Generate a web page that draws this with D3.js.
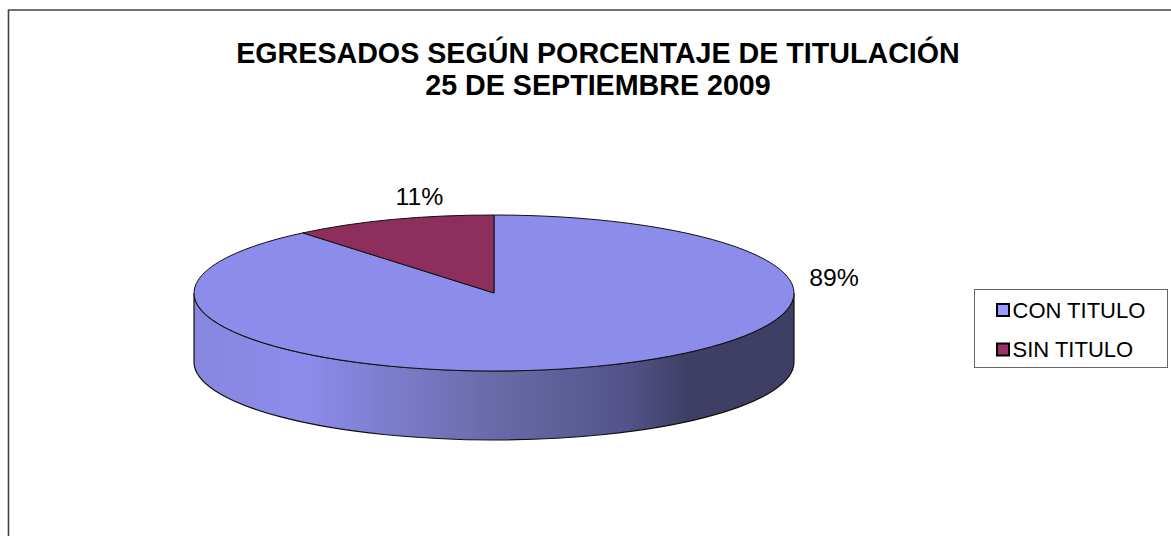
<!DOCTYPE html>
<html><head><meta charset="utf-8">
<script src="https://cdn.jsdelivr.net/npm/d3@7"></script>
<style>html,body{margin:0;padding:0;background:#fff}svg{display:block}text{font-family:"Liberation Sans",Arial,sans-serif;fill:#000}</style>
</head><body><svg id="c" width="1171" height="536"></svg>
<script>
const categories = ["CON TITULO", "SIN TITULO"];
const seriesValues = [89, 11];
const percentLabels = ["89%", "11%"];
const titleLines = ["EGRESADOS SEGÚN PORCENTAJE DE TITULACIÓN", "25 DE SEPTIEMBRE 2009"];
const sideStops = [[0, "#8787df"], [0.18, "#8c8cec"], [0.5, "#6a6aa8"], [0.72, "#53538a"], [0.82, "#3f3f66"], [1, "#3f3f66"]];
const sliceColors = ["#8c8ceb", "#8d2e5c"];
const legendColors = ["#9999ff", "#993366"];

const svg = d3.select("#c");
const cx = 494, cy = 293, rx = 300, ry = 78, depth = 69;

svg.append("path").attr("d", "M8.5 536V10H1171").attr("fill", "none").attr("stroke", "#444").attr("stroke-width", 1.6);

svg.append("text").attr("text-anchor", "middle").attr("font-size", 28.65).attr("font-weight", "bold")
  .selectAll("tspan").data(titleLines).join("tspan")
  .attr("x", 598).attr("y", (d, i) => 63 + i * 32).text(d => d);

const defs = svg.append("defs");
const grad = defs.append("linearGradient").attr("id", "side").attr("x1", 0).attr("x2", 1).attr("y1", 0).attr("y2", 0);
grad.selectAll("stop").data(sideStops).join("stop").attr("offset", d => d[0]).attr("stop-color", d => d[1]);

// side wall
svg.append("path")
  .attr("d", `M${cx - rx} ${cy}V${cy + depth}A${rx} ${ry} 0 0 0 ${cx + rx} ${cy + depth}V${cy}A${rx} ${ry} 0 0 1 ${cx - rx} ${cy}Z`)
  .attr("fill", "url(#side)").attr("stroke", "#111").attr("stroke-width", 1.2);

// top
const pie = d3.pie().sort(null)(seriesValues);
const arc = d3.arc().innerRadius(0).outerRadius(rx);
svg.append("g").attr("transform", `translate(${cx},${cy}) scale(1,${ry / rx})`)
  .selectAll("path").data(pie).join("path")
  .attr("d", arc).attr("fill", (d, i) => sliceColors[i])
  .attr("stroke", "#111").attr("stroke-width", 1).attr("vector-effect", "non-scaling-stroke");

// labels
const labelPos = [[834, 286], [419.5, 205]];
svg.append("g").selectAll("text").data(percentLabels).join("text")
  .attr("text-anchor", "middle").attr("font-size", 24.8)
  .attr("x", (d, i) => labelPos[i][0]).attr("y", (d, i) => labelPos[i][1]).text(d => d);

// legend
svg.append("rect").attr("x", 974.5).attr("y", 289.5).attr("width", 193).attr("height", 78)
  .attr("fill", "#fff").attr("stroke", "#666");
const lg = svg.append("g").selectAll("g").data(categories).join("g")
  .attr("transform", (d, i) => `translate(997,${310 + i * 39.5})`);
lg.append("rect").attr("x", 0).attr("y", -6).attr("width", 12).attr("height", 12)
  .attr("fill", (d, i) => legendColors[i]).attr("stroke", "#000").attr("stroke-width", 2);
lg.append("text").attr("x", 15.5).attr("y", 7.5).attr("font-size", 22).text(d => d);
</script></body></html>
